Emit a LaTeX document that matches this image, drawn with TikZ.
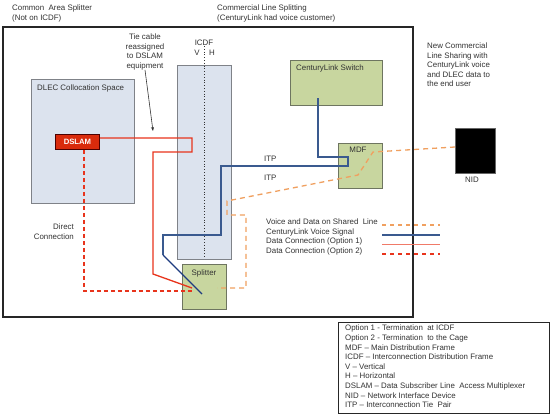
\documentclass[tikz,border=0pt]{standalone}
\usepackage{fontspec}
\setmainfont{Liberation Sans}
\usetikzlibrary{arrows.meta}
\definecolor{boxblue}{HTML}{DCE3EE}
\definecolor{boxgreen}{HTML}{C8D69F}
\definecolor{edgegray}{HTML}{7F8288}
\definecolor{greenedge}{HTML}{6E7560}
\definecolor{dslamred}{HTML}{D92B0C}
\definecolor{linered}{HTML}{E8341C}
\definecolor{lightred}{HTML}{F07A68}
\definecolor{lineblue}{HTML}{3A5A8F}
\definecolor{darkblue}{HTML}{1E3C80}
\definecolor{lineorange}{HTML}{F0A060}
\definecolor{txt}{HTML}{333333}
\tikzset{
  lbl/.style={inner sep=0pt, text=txt, font=\fontsize{7.9}{9.4}\selectfont},
  bluebox/.style={draw=edgegray, fill=boxblue, line width=0.9pt, inner sep=0pt},
  greenbox/.style={draw=greenedge, fill=boxgreen, line width=0.9pt, inner sep=0pt},
  voice/.style={lineblue, line width=1.3pt},
  opt1/.style={linered, line width=1.3pt},
  opt2/.style={linered, line width=1.3pt, dash pattern=on 4pt off 3pt},
  shared/.style={lineorange, line width=1.3pt, dash pattern=on 5pt off 4pt},
}
\begin{document}
\begin{tikzpicture}[x=1pt,y=-1pt]
\useasboundingbox (0,0) rectangle (550,418);
\fill[white] (0,0) rectangle (550,418);
% frames
\node[draw=black!85, line width=1.8pt, minimum width=410pt, minimum height=290pt, inner sep=0pt, anchor=north west] (frame) at (2,26) {};
\node[draw=black!85, line width=1.4pt, minimum width=211pt, minimum height=91pt, inner sep=0pt, anchor=north west] (legendbox) at (338,322) {};
% top texts
\node[lbl, anchor=west] (t1) at (12,8) {Common\ \ Area Splitter};
\node[lbl, anchor=west] (t2) at (12,18) {(Not on ICDF)};
\node[lbl, anchor=west] (t3) at (217,8) {Commercial Line Splitting};
\node[lbl, anchor=west] (t4) at (217,18) {(CenturyLink had voice customer)};
% boxes
\node[bluebox, minimum width=103pt, minimum height=124pt, anchor=north west] (dlec) at (31,79) {};
\node[lbl, anchor=west] (dleclbl) at (37,88) {DLEC Collocation Space};
\node[draw=black!70!red, fill=dslamred, line width=0.9pt, minimum width=44pt, minimum height=15pt, inner sep=0pt, anchor=north west, text=white, font=\fontsize{7.7}{9}\selectfont\bfseries] (dslam) at (55,134) {DSLAM};
\node[bluebox, minimum width=54pt, minimum height=194pt, anchor=north west] (icdf) at (177,65) {};
\coordinate (dtop) at (204,46);
\coordinate (dbot) at (204,258);
\draw[txt, line width=0.8pt, dotted] (dtop) -- (dbot);
\node[lbl] (icdflbl) at (204,43) {ICDF};
\node[lbl] (vlbl) at (197,53) {V};
\node[lbl] (hlbl) at (212,53) {H};
\node[greenbox, minimum width=92pt, minimum height=45pt, anchor=north west] (sw) at (290,60) {};
\node[lbl, anchor=west] (swlbl) at (296,68) {CenturyLink\ Switch};
\node[greenbox, minimum width=44pt, minimum height=45pt, anchor=north west] (mdf) at (338,143) {};
\node[lbl] (mdflbl) at (358,150) {MDF};
\node[greenbox, minimum width=44pt, minimum height=45pt, anchor=north west] (splitter) at (182,264) {};
\node[lbl] (splbl) at (204,273) {Splitter};
\node[draw=black!60, fill=black, line width=0.8pt, minimum width=40pt, minimum height=45pt, inner sep=0pt, anchor=north west] (nid) at (455,128) {};
\node[lbl] (nidlbl) at (472,180) {NID};
% annotations
\node[lbl, align=center, anchor=north] (tie) at (145,34) {Tie cable\\reassigned\\to DSLAM\\equipment};
\coordinate (tieend) at (153,131);
\draw[black!80, line width=0.6pt, -{Stealth[length=4pt,width=3pt]}] (tie.south) -- (tieend);
\node[lbl, align=right, anchor=north east] (direct) at (74,224) {Direct\\Connection};
\node[lbl, anchor=west] (itp1) at (264,159) {ITP};
\node[lbl, anchor=west] (itp2) at (264,178) {ITP};
\node[lbl, align=left, anchor=north west] (newcl) at (427,43) {New Commercial\\Line Sharing with\\CenturyLink voice\\and DLEC data to\\the end user};
% connectors
\coordinate (swout) at (318,98);
\coordinate (splblue) at (202,294);
\draw[voice] (swout) -- (318,157) -- (348,157) -- (348,166) -- (221,166) -- (221,235) -- (163,235) -- (163,255);
\draw[darkblue, line width=1.1pt] (163,255) -- (splblue);
\coordinate (splred) at (192,288);
\draw[opt1] (dslam.east |- 0,138) -- (192,138) -- (192,152) -- (153,152) -- (153,274) -- (splred);
\coordinate (splred2) at (192,291);
\draw[opt2] (dslam.south -| 84,0) -- (84,291) -- (splred2);
\coordinate (splor) at (217,288);
\draw[shared] (nid.west |- 0,147) -- (373,152) -- (358,175) -- (227,201) -- (227,215) -- (246,215) -- (246,288) -- (splor);
% legend
\node[lbl, align=left, anchor=north west] (leg) at (266,219) {Voice and Data on Shared\ \ Line\\CenturyLink Voice Signal\\Data Connection (Option 1)\\Data Connection (Option 2)};
\coordinate (l1a) at (382,225); \coordinate (l1b) at (440,225);
\coordinate (l2a) at (382,235); \coordinate (l2b) at (440,235);
\coordinate (l3a) at (382,244.5); \coordinate (l3b) at (440,244.5);
\coordinate (l4a) at (382,254); \coordinate (l4b) at (440,254);
\draw[lineorange, line width=1.1pt, dash pattern=on 4pt off 4pt] (l1a) -- (l1b);
\draw[lineblue, line width=1.2pt] (l2a) -- (l2b);
\draw[lightred, line width=1.4pt] (l3a) -- (l3b);
\draw[linered, line width=1.2pt, dash pattern=on 4pt off 4pt] (l4a) -- (l4b);
\node[lbl, align=left, anchor=north west, font=\fontsize{7.9}{9.6}\selectfont] (abbr) at (345,325) {Option 1 - Termination\ \ at ICDF\\Option 2 - Termination\ \ to the Cage\\MDF -- Main Distribution Frame\\ICDF -- Interconnection Distribution Frame\\V -- Vertical\\H -- Horizontal\\DSLAM -- Data Subscriber Line\ \ Access Multiplexer\\NID -- Network Interface Device\\ITP -- Interconnection Tie\ \ Pair};
\end{tikzpicture}
\end{document}
